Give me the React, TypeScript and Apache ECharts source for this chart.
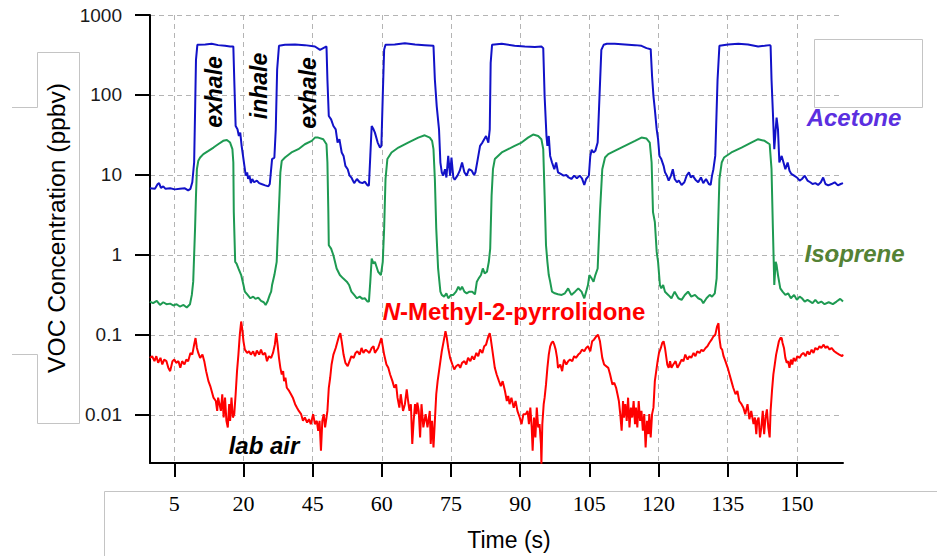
import React, { useEffect, useRef } from 'react';
import * as echarts from 'echarts';

// Tick positions (s) and the labels printed under them in the original figure
const timeTicks = [15, 30, 45, 60, 75, 90, 105, 120, 135, 150];
const timeTickLabels = ['5', '20', '45', '60', '75', '90', '105', '120', '135', '150'];
const concTicks = [0.01, 0.1, 1, 10, 100, 1000];
const concTickLabels = ['0.01', '0.1', '1', '10', '100', '1000'];

// [time (s), concentration (ppbv)]
const acetone: [number, number][] = [
  [9.7,6.8],[10.8,6.7],[11.4,7.7],[11.7,7.9],[12.1,6.9],[12.6,7.2],[13.1,6.7],[14.1,6.8],[15.1,6.6],[16.2,6.7],[17.3,6.8],[18.0,6.4],[18.5,6.7],[18.9,8.1],[19.3,14.3],[19.5,60],[19.7,274],[20.0,424],[21.7,428],[23.1,436],[24.5,420],[26.0,412],[27.1,404],[27.8,404],[28.0,156],[28.3,40.9],[28.7,37.2],[29.0,30.7],[29.3,33.8],[29.6,23.1],[29.9,17.3],[30.2,13.0],[30.5,9.8],[30.8,10.8],[31.0,8.9],[31.3,9.8],[31.6,7.9],[31.9,8.9],[32.3,8.1],[32.9,8.5],[33.4,7.9],[33.9,7.7],[34.7,7.4],[35.4,7.2],[35.7,7.7],[36.0,11.8],[36.2,15.8],[36.7,16.5],[37.0,37.2],[37.3,208],[37.7,412],[39.0,424],[41.2,428],[43.3,420],[45.5,404],[46.6,367],[47.3,385],[48.0,404],[48.2,156],[48.5,54.5],[49.0,49.5],[49.5,40.9],[50.0,37.2],[50.4,25.4],[50.8,28],[51.3,19.1],[51.7,17.3],[52.1,13.0],[52.6,11.8],[53.0,9.8],[53.4,9.3],[54.0,7.9],[54.6,8.9],[55.2,8.1],[55.8,7.9],[56.3,8.25],[56.9,7.4],[57.2,7.4],[57.5,17.3],[57.8,40.9],[58.2,37.2],[58.5,33.8],[59.1,25.4],[59.6,22],[59.9,23.1],[60.2,96.6],[60.5,367],[60.8,424],[62.8,428],[65.0,444],[67.2,428],[69.3,420],[71.2,412],[71.5,156],[71.9,72.6],[72.4,37.2],[72.7,14.3],[73.0,10.8],[73.3,9.8],[73.7,11.8],[74.0,9.3],[74.4,17.3],[74.8,9.8],[75.1,16.5],[75.5,9.3],[75.8,8.73],[76.4,9.8],[76.9,11.3],[77.4,14.3],[77.9,10.8],[78.4,9.8],[78.9,11.8],[79.5,11.3],[80.0,9.98],[80.3,10.8],[80.8,15.8],[81.3,23.1],[81.8,25.4],[82.2,28],[82.6,30.7],[83.1,25.4],[83.4,37.2],[83.6,251],[83.9,424],[86.0,436],[88.8,412],[91.0,404],[93.2,397],[94.6,404],[95.0,385],[95.3,96.6],[95.7,30.7],[95.9,23.1],[96.2,30.7],[96.5,17.3],[96.9,14.3],[97.4,11.8],[97.8,14.3],[98.2,10.8],[98.8,10.3],[99.4,9.8],[100.0,9.98],[100.5,9.3],[101.1,8.9],[101.7,9.8],[102.3,9.07],[102.9,9.8],[103.4,9.07],[103.9,7.5],[104.3,8.9],[104.9,9.8],[105.2,17.3],[105.5,20.6],[105.9,19.1],[106.3,20.0],[106.8,25.4],[107.2,96.6],[107.6,367],[108.1,424],[108.8,436],[110.5,436],[112.7,428],[114.9,420],[116.3,412],[117.4,385],[118.3,374],[118.6,171],[118.9,96.6],[119.2,66],[119.6,37.2],[119.9,28],[120.2,17.3],[120.6,15.8],[121.1,13.0],[121.4,10.8],[121.8,9.8],[122.2,8.5],[122.7,9.8],[123.1,11.8],[123.5,8.9],[124.0,8.1],[124.4,8.5],[125.0,7.5],[125.6,8.1],[126.1,9.8],[126.6,10.8],[127.0,9.3],[127.4,9.8],[128.0,8.73],[128.6,8.1],[129.2,9.3],[129.7,7.9],[130.3,8.9],[130.9,7.7],[131.3,7.5],[131.6,9.8],[131.9,11.8],[132.3,17.3],[132.8,156],[133.2,412],[135.1,428],[137.3,436],[139.4,428],[141.6,404],[143.0,412],[144.1,420],[144.3,412],[144.5,156],[144.8,60],[145.1,21],[145.4,37.2],[145.6,52],[145.9,37.2],[146.2,14.3],[146.7,17.3],[147.1,14.3],[147.5,11.8],[148.0,14.3],[148.4,11.3],[148.8,10.3],[149.4,9.8],[150.0,9.3],[150.6,8.5],[151.1,8.9],[151.7,9.8],[152.3,8.5],[152.9,8.1],[153.4,7.7],[154.0,7.9],[154.6,7.5],[155.2,8.1],[155.7,9.3],[156.2,7.7],[156.8,7.4],[157.5,7.7],[158.2,8.1],[158.9,7.4],[159.5,7.7],[160.0,7.9]
];

const isoprene: [number, number][] = [
  [9.7,0.261],[10.4,0.249],[11.2,0.266],[11.9,0.237],[12.6,0.256],[13.3,0.242],[14.1,0.246],[14.8,0.233],[15.5,0.242],[16.2,0.226],[17.0,0.237],[17.7,0.220],[18.4,0.242],[18.8,0.316],[19.1,0.463],[19.5,2.13],[19.7,5.5],[19.9,11.8],[20.2,15.0],[20.6,16.5],[21.3,18.2],[22.4,20.0],[23.5,22],[24.5,24.2],[25.6,26.7],[26.4,27.4],[27.1,25.4],[27.6,21],[27.8,14.3],[27.9,3.43],[28.2,0.82],[28.5,0.78],[28.9,0.677],[29.5,0.560],[30.0,0.420],[30.3,0.347],[30.9,0.316],[31.5,0.287],[32.1,0.301],[32.6,0.282],[33.2,0.292],[33.8,0.266],[34.4,0.256],[34.8,0.237],[35.2,0.261],[35.7,0.316],[36.0,0.347],[36.2,0.420],[36.7,0.560],[37.2,0.82],[37.5,2.13],[37.8,5.5],[38.0,10.8],[38.3,15.0],[39.0,16.5],[40.4,19.1],[41.9,21],[43.3,24.2],[44.8,26.7],[45.5,29.3],[46.2,29.3],[47.3,28],[48.0,24.2],[48.2,14.3],[48.4,3.43],[48.5,1.32],[49.0,1.20],[49.5,0.99],[50.2,0.677],[50.9,0.560],[51.6,0.509],[52.4,0.463],[52.9,0.420],[53.4,0.347],[54.0,0.316],[54.6,0.287],[55.2,0.301],[55.8,0.282],[56.3,0.287],[56.9,0.261],[57.2,0.261],[57.5,0.463],[57.8,0.90],[58.2,0.78],[58.5,0.82],[59.2,0.616],[59.8,0.560],[60.2,0.82],[60.5,2.13],[60.8,8.9],[61.2,15.8],[62.1,19.1],[63.6,22],[65.7,25.4],[67.9,29.3],[69.3,31.3],[70.4,29.3],[70.9,26.7],[71.2,21],[71.5,8.9],[71.8,2.13],[72.2,0.677],[72.7,0.347],[73.0,0.316],[73.5,0.301],[74.0,0.331],[74.4,0.287],[75.0,0.316],[75.5,0.316],[76.1,0.347],[76.6,0.401],[77.0,0.364],[77.4,0.401],[77.9,0.347],[78.4,0.331],[79.0,0.347],[79.6,0.347],[80.2,0.322],[80.6,0.463],[81.0,0.509],[81.5,0.560],[81.9,0.677],[82.3,0.587],[82.8,0.616],[83.2,0.82],[83.5,1.20],[83.8,5.5],[84.1,11.8],[84.5,15.8],[86.0,19.1],[87.4,21],[88.8,23.1],[90.3,25.4],[91.7,29.3],[92.8,32.0],[93.9,30.7],[94.6,28],[95.0,21],[95.3,5.5],[95.6,1.32],[95.9,0.82],[96.2,0.560],[96.5,0.463],[96.9,0.347],[97.5,0.331],[98.2,0.322],[99.0,0.316],[99.7,0.331],[100.4,0.382],[101.1,0.316],[101.9,0.347],[102.6,0.382],[103.3,0.347],[103.9,0.287],[104.3,0.347],[104.7,0.420],[105.0,0.560],[105.5,0.509],[105.9,0.463],[106.3,0.560],[106.8,0.677],[107.3,3.43],[107.8,11.8],[108.4,16.5],[109.1,18.2],[110.5,20.0],[112.7,23.1],[114.9,26.7],[116.3,29.3],[117.4,28.5],[118.1,25.4],[118.5,14.3],[118.8,3.43],[119.2,2.58],[119.6,1.09],[119.9,0.82],[120.3,0.420],[120.6,0.382],[121.0,0.420],[121.4,0.347],[122.1,0.316],[122.8,0.287],[123.5,0.347],[124.3,0.287],[125.0,0.274],[125.7,0.316],[126.4,0.347],[127.1,0.301],[127.9,0.316],[128.6,0.287],[129.3,0.274],[129.7,0.249],[130.4,0.287],[131.1,0.316],[131.6,0.301],[132.2,0.331],[132.6,0.509],[132.9,2.13],[133.2,8.9],[133.7,14.3],[134.2,16.5],[135.8,19.1],[138.0,22],[140.1,25.4],[141.6,28],[143.0,26.7],[144.1,24.2],[144.5,11.8],[144.8,2.13],[145.1,0.420],[145.4,0.82],[145.6,0.745],[145.9,0.560],[146.4,0.382],[146.9,0.347],[147.5,0.316],[148.1,0.331],[148.7,0.287],[149.4,0.316],[150.0,0.274],[150.6,0.301],[151.1,0.287],[151.7,0.261],[152.3,0.274],[152.9,0.261],[153.4,0.249],[154.0,0.274],[154.6,0.249],[155.3,0.261],[156.0,0.242],[156.9,0.256],[157.8,0.242],[158.6,0.261],[159.4,0.282],[160.0,0.261]
];

const nmp: [number, number][] = [
  [9.7,0.0516],[10.2,0.0541],[10.7,0.0469],[11.1,0.0541],[11.5,0.0447],[12.0,0.0516],[12.4,0.0426],[12.8,0.0491],[13.3,0.0469],[13.7,0.0387],[14.1,0.0352],[14.6,0.0469],[15.0,0.0491],[15.4,0.0447],[15.9,0.0469],[16.3,0.0387],[16.7,0.0469],[17.2,0.0426],[17.6,0.0491],[18.0,0.0469],[18.5,0.0595],[18.9,0.0567],[19.3,0.0755],[19.6,0.0913],[19.9,0.0686],[20.2,0.0595],[20.6,0.0516],[21.1,0.0567],[21.5,0.0469],[21.9,0.0352],[22.4,0.0264],[22.8,0.0229],[23.1,0.0199],[23.5,0.0164],[24.0,0.0149],[24.3,0.0112],[24.5,0.0164],[24.8,0.0136],[25.1,0.0112],[25.4,0.0181],[25.7,0.00926],[26.0,0.0164],[26.3,0.00842],[26.6,0.00696],[26.9,0.0136],[27.1,0.00842],[27.4,0.0164],[27.7,0.00926],[28.0,0.0102],[28.3,0.0181],[28.6,0.0352],[28.9,0.0567],[29.2,0.100],[29.5,0.147],[29.7,0.122],[30.0,0.0831],[30.3,0.0654],[30.8,0.0595],[31.2,0.0624],[31.6,0.0567],[32.1,0.0624],[32.5,0.0541],[32.9,0.0636],[33.4,0.0567],[33.8,0.0654],[34.2,0.0567],[34.7,0.0595],[35.1,0.0469],[35.5,0.0541],[36.0,0.0516],[36.4,0.0595],[36.8,0.0755],[37.1,0.105],[37.4,0.0755],[37.7,0.0516],[38.0,0.0387],[38.3,0.0320],[38.6,0.0352],[38.8,0.0264],[39.1,0.0291],[39.4,0.0218],[39.9,0.0199],[40.3,0.0181],[40.7,0.0164],[41.2,0.0136],[41.6,0.0123],[42.0,0.0112],[42.5,0.0102],[42.9,0.00842],[43.3,0.00926],[43.8,0.00802],[44.2,0.00883],[44.6,0.00765],[45.1,0.0102],[45.5,0.00765],[45.9,0.00842],[46.2,0.00632],[46.5,0.00842],[46.8,0.00357],[47.1,0.00842],[47.4,0.0102],[47.7,0.00696],[48.0,0.00926],[48.2,0.0112],[48.5,0.0218],[48.8,0.0291],[49.1,0.0426],[49.5,0.0567],[50.0,0.0686],[50.4,0.0831],[50.7,0.0958],[51.0,0.105],[51.3,0.0831],[51.7,0.0567],[52.1,0.0447],[52.6,0.0406],[53.0,0.0469],[53.4,0.0541],[53.9,0.0516],[54.3,0.0595],[54.7,0.0624],[55.2,0.0567],[55.6,0.0686],[56.0,0.0595],[56.5,0.0654],[56.9,0.0624],[57.3,0.0595],[57.8,0.0686],[58.2,0.0720],[58.5,0.0595],[59.2,0.0686],[59.9,0.0913],[60.5,0.0567],[61.0,0.0426],[61.4,0.0387],[61.8,0.0320],[62.3,0.0264],[62.7,0.0218],[63.1,0.0240],[63.4,0.0164],[63.8,0.0123],[64.1,0.0181],[64.6,0.0112],[65.0,0.0136],[65.4,0.0208],[65.7,0.0149],[66.0,0.0112],[66.3,0.0136],[66.6,0.00432],[66.9,0.00842],[67.2,0.0136],[67.5,0.0102],[67.7,0.0142],[68.0,0.0112],[68.3,0.00522],[68.6,0.0136],[69.0,0.00696],[69.5,0.0102],[69.9,0.00696],[70.4,0.0112],[70.6,0.00432],[70.9,0.00842],[71.2,0.00392],[71.5,0.00842],[71.8,0.0181],[72.1,0.0264],[72.4,0.0352],[72.7,0.0469],[73.0,0.0624],[73.4,0.0831],[73.8,0.111],[74.1,0.0913],[74.4,0.0686],[74.8,0.0516],[75.3,0.0426],[75.7,0.0369],[76.1,0.0406],[76.6,0.0426],[77.0,0.0387],[77.4,0.0447],[77.9,0.0469],[78.3,0.0426],[78.7,0.0516],[79.2,0.0469],[79.6,0.0541],[80.0,0.0491],[80.5,0.0595],[80.9,0.0541],[81.3,0.0654],[81.8,0.0595],[82.2,0.0720],[82.6,0.0755],[83.1,0.0958],[83.4,0.105],[83.6,0.0913],[83.9,0.0686],[84.2,0.0516],[84.5,0.0387],[84.9,0.0320],[85.4,0.0264],[85.8,0.0229],[86.2,0.0264],[86.7,0.0199],[87.1,0.0149],[87.4,0.0172],[87.7,0.0136],[88.1,0.0164],[88.6,0.0123],[89.0,0.0149],[89.4,0.0112],[89.9,0.00926],[90.3,0.00765],[90.7,0.0102],[91.2,0.0102],[91.6,0.0112],[91.9,0.00765],[92.2,0.0123],[92.5,0.00696],[92.7,0.00357],[93.0,0.00926],[93.3,0.00522],[93.6,0.0123],[93.9,0.00696],[94.2,0.00765],[94.5,0.00432],[94.6,0.00244],[94.8,0.00765],[95.1,0.0136],[95.3,0.0164],[95.6,0.0240],[95.9,0.0387],[96.2,0.0567],[96.5,0.0720],[96.8,0.0792],[97.1,0.0831],[97.4,0.0755],[97.7,0.0654],[98.0,0.0516],[98.2,0.0387],[98.7,0.0426],[99.1,0.0352],[99.5,0.0491],[100.0,0.0426],[100.4,0.0469],[100.8,0.0491],[101.3,0.0469],[101.7,0.0541],[102.1,0.0516],[102.6,0.0567],[103.0,0.0595],[103.4,0.0654],[103.9,0.0624],[104.3,0.0686],[104.7,0.0720],[105.2,0.0624],[105.6,0.0831],[106.0,0.0871],[106.5,0.0958],[106.9,0.100],[107.3,0.0831],[107.8,0.0516],[108.2,0.0426],[109.1,0.0387],[109.5,0.0320],[110.0,0.0240],[110.4,0.0252],[110.8,0.0218],[111.1,0.0181],[111.4,0.0149],[111.7,0.0102],[112.0,0.00632],[112.3,0.0149],[112.5,0.00926],[112.8,0.0136],[113.1,0.00842],[113.4,0.0164],[113.7,0.00696],[114.0,0.0123],[114.3,0.00926],[114.6,0.0149],[114.9,0.00765],[115.1,0.0123],[115.4,0.00696],[115.7,0.0149],[116.0,0.00842],[116.3,0.0112],[116.6,0.00632],[116.9,0.0102],[117.2,0.00392],[117.5,0.00842],[117.8,0.00575],[118.0,0.0102],[118.3,0.00522],[118.6,0.0102],[118.9,0.0123],[119.2,0.0264],[119.5,0.0352],[119.8,0.0469],[120.1,0.0595],[120.5,0.0686],[120.8,0.0792],[121.1,0.0831],[121.4,0.0686],[121.7,0.0516],[121.9,0.0426],[122.2,0.0387],[122.5,0.0469],[122.8,0.0387],[123.2,0.0426],[123.7,0.0469],[124.1,0.0387],[124.5,0.0426],[125.0,0.0491],[125.4,0.0469],[125.8,0.0567],[126.3,0.0491],[126.7,0.0541],[127.1,0.0516],[127.6,0.0595],[128.0,0.0541],[128.4,0.0624],[128.9,0.0595],[129.3,0.0654],[129.7,0.0624],[130.2,0.0686],[130.6,0.0720],[131.0,0.0792],[131.5,0.0871],[131.9,0.0958],[132.3,0.100],[132.7,0.128],[133.0,0.140],[133.2,0.0913],[133.5,0.0686],[133.8,0.0654],[134.1,0.0541],[134.5,0.0469],[135.0,0.0387],[135.4,0.0320],[135.8,0.0264],[136.2,0.0218],[136.7,0.0181],[137.1,0.0199],[137.5,0.0149],[138.0,0.0136],[138.4,0.0123],[138.8,0.0102],[139.3,0.0136],[139.7,0.00883],[140.1,0.0112],[140.6,0.00765],[140.9,0.00926],[141.2,0.00575],[141.4,0.00842],[141.7,0.00926],[142.0,0.00522],[142.3,0.00696],[142.6,0.0112],[142.9,0.00575],[143.2,0.00926],[143.5,0.0117],[143.8,0.00696],[144.1,0.00522],[144.3,0.0112],[144.6,0.0199],[144.9,0.0320],[145.2,0.0426],[145.5,0.0567],[145.8,0.0686],[146.1,0.0831],[146.4,0.0913],[146.7,0.0913],[146.9,0.0792],[147.2,0.0686],[147.5,0.0516],[147.8,0.0447],[148.1,0.0469],[148.4,0.0387],[148.7,0.0491],[149.0,0.0426],[149.3,0.0516],[149.7,0.0469],[150.1,0.0541],[150.6,0.0516],[151.0,0.0567],[151.4,0.0595],[151.9,0.0541],[152.3,0.0624],[152.7,0.0567],[153.2,0.0654],[153.6,0.0595],[154.0,0.0686],[154.5,0.0654],[154.9,0.0720],[155.3,0.0686],[155.8,0.0755],[156.2,0.0686],[156.6,0.0720],[157.1,0.0654],[157.5,0.0686],[158.1,0.0624],[158.6,0.0595],[159.2,0.0567],[159.8,0.0541],[160.0,0.0567]
];

const SANS = '"Liberation Sans", Arial, Helvetica, sans-serif';
const SERIF = '"Liberation Serif", "Times New Roman", serif';

export default function App() {
  const ref = useRef<HTMLDivElement>(null);

  useEffect(() => {
    if (!ref.current) return;
    const chart = echarts.init(ref.current, null, { renderer: 'svg' });

    const gridLine = { show: true, lineStyle: { color: '#b4b4b4', type: [5, 4] as number[], width: 1 } };
    const concLabel = (v: number) => {
      for (let i = 0; i < concTicks.length; i++) {
        if (Math.abs(Math.log10(v) - Math.log10(concTicks[i])) < 1e-6) return concTickLabels[i];
      }
      return '';
    };
    const timeLabel = (v: number) => {
      for (let i = 0; i < timeTicks.length; i++) {
        if (Math.abs(v - timeTicks[i]) < 1e-6) return timeTickLabels[i];
      }
      return '';
    };
    const decoStyle = { stroke: '#c4c4c4', lineWidth: 1, fill: 'none' };
    const labelFont = (size: number) => ({ fontFamily: SANS, fontSize: size, fontWeight: 'bold', fontStyle: 'italic' });

    chart.setOption({
      animation: false,
      backgroundColor: '#ffffff',
      grid: { left: 150, right: 94, top: 15, bottom: 90 },
      xAxis: {
        type: 'value',
        min: 9.73,
        max: 160,
        name: 'Time (s)',
        nameLocation: 'middle',
        nameGap: 65,
        nameTextStyle: { fontFamily: SANS, fontSize: 23, color: '#000', padding: [0, 0, 0, 25] },
        axisLine: { show: true, lineStyle: { color: '#000', width: 2 } },
        axisTick: { show: true, inside: false, length: 14, customValues: timeTicks, lineStyle: { color: '#000', width: 2 } },
        axisLabel: { customValues: timeTicks, formatter: timeLabel, margin: 29, fontFamily: SERIF, fontSize: 22, color: '#000' },
        splitLine: gridLine,
      },
      yAxis: {
        type: 'log',
        logBase: 10,
        min: 0.0025,
        max: 1000,
        name: 'VOC Concentration (ppbv)',
        nameLocation: 'middle',
        nameGap: 80,
        nameTextStyle: { fontFamily: SANS, fontSize: 24.6, color: '#000', padding: [0, 0, 0, 22] },
        axisLine: { show: true, lineStyle: { color: '#000', width: 2 } },
        axisTick: { show: true, inside: false, length: 15, customValues: concTicks, lineStyle: { color: '#000', width: 2 } },
        axisLabel: { customValues: concTicks, formatter: concLabel, margin: 28, fontFamily: SANS, fontSize: 19, color: '#1a1a1a' },
        splitLine: gridLine,
      },
      series: [
        {
          name: 'N-Methyl-2-pyrrolidone', type: 'line', data: nmp, symbol: 'none', showSymbol: false,
          lineStyle: { color: '#ff0000', width: 2 }, itemStyle: { color: '#ff0000' }, z: 2,
        },
        {
          name: 'Isoprene', type: 'line', data: isoprene, symbol: 'none', showSymbol: false,
          lineStyle: { color: '#1e9a52', width: 2 }, itemStyle: { color: '#1e9a52' }, z: 3,
        },
        {
          name: 'Acetone', type: 'line', data: acetone, symbol: 'none', showSymbol: false,
          lineStyle: { color: '#1212c8', width: 2 }, itemStyle: { color: '#1212c8' }, z: 4,
        },
      ],
      graphic: [
        { type: 'polyline', silent: true, shape: { points: [[12, 107.5], [37.5, 107.5], [37.5, 52.5], [79.5, 52.5], [79.5, 423.5], [37.5, 423.5], [37.5, 354.5], [12, 354.5]] }, style: decoStyle },
        { type: 'polyline', silent: true, shape: { points: [[104.5, 556], [104.5, 491.5], [937, 491.5]] }, style: decoStyle },
        { type: 'rect', silent: true, shape: { x: 814.5, y: 39.5, width: 108, height: 68 }, style: decoStyle },
        { type: 'text', silent: true, x: 214, y: 92, rotation: Math.PI / 2, z: 100,
          style: { text: 'exhale', ...labelFont(23), fill: '#000', align: 'center', verticalAlign: 'middle' } },
        { type: 'text', silent: true, x: 258.5, y: 86, rotation: Math.PI / 2, z: 100,
          style: { text: 'inhale', ...labelFont(23), fill: '#000', align: 'center', verticalAlign: 'middle' } },
        { type: 'text', silent: true, x: 307.5, y: 93, rotation: Math.PI / 2, z: 100,
          style: { text: 'exhale', ...labelFont(23), fill: '#000', align: 'center', verticalAlign: 'middle' } },
        { type: 'text', silent: true, x: 264, y: 445.7, z: 100,
          style: { text: 'lab air', ...labelFont(24), fill: '#000', align: 'center', verticalAlign: 'middle' } },
        { type: 'text', silent: true, x: 854, y: 117.8, z: 100,
          style: { text: 'Acetone', ...labelFont(24), fill: '#5b2fe0', align: 'center', verticalAlign: 'middle' } },
        { type: 'text', silent: true, x: 854.5, y: 253.5, z: 100,
          style: { text: 'Isoprene', ...labelFont(24), fill: '#548235', align: 'center', verticalAlign: 'middle' } },
        { type: 'text', silent: true, x: 514, y: 311.3, z: 100,
          style: {
            text: '{i|N}{r|-Methyl-2-pyrrolidone}',
            align: 'center', verticalAlign: 'middle',
            fontFamily: SANS, fontSize: 24, fontWeight: 'bold', fill: '#ff0000',
            rich: {
              i: { fontFamily: SANS, fontSize: 24, fontWeight: 'bold', fontStyle: 'italic', fill: '#ff0000' },
              r: { fontFamily: SANS, fontSize: 24, fontWeight: 'bold', fill: '#ff0000' },
            },
          } },
      ],
    });

    return () => chart.dispose();
  }, []);

  return <div ref={ref} style={{ position: 'fixed', left: 0, top: 0, width: 937, height: 556 }} />;
}
